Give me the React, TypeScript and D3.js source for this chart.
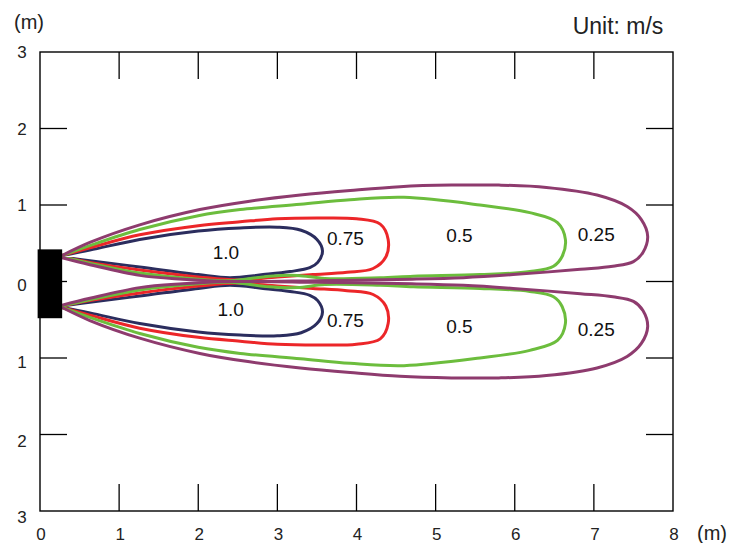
import React from "react";
import * as d3 from "d3";

type Pt = [number, number];

// Upper lobes (metres); lower lobes are their mirror images
const lobe10: Pt[] = [[0.28,0.34],[0.63,0.41],[1.26,0.55],[2.0,0.66],[2.53,0.70],[3.0,0.71],[3.3,0.67],[3.5,0.55],[3.57,0.40],[3.51,0.25],[3.41,0.18],[3.16,0.13],[2.82,0.09],[2.4,0.05],[2.0,0.09],[1.26,0.19],[0.63,0.27],[0.28,0.32]];
const lobe075: Pt[] = [[0.28,0.34],[0.63,0.44],[1.26,0.61],[2.0,0.73],[2.53,0.78],[3.0,0.82],[3.5,0.83],[4.0,0.82],[4.3,0.75],[4.40,0.55],[4.37,0.32],[4.21,0.17],[3.88,0.12],[3.45,0.09],[3.0,0.06],[2.5,0.02],[2.0,0.06],[1.26,0.15],[0.63,0.25],[0.28,0.32]];
const lobe05: Pt[] = [[0.28,0.34],[0.63,0.47],[1.26,0.68],[2.0,0.86],[2.53,0.94],[3.29,1.01],[3.92,1.07],[4.6,1.10],[5.56,1.0],[6.19,0.9],[6.54,0.77],[6.64,0.55],[6.6,0.33],[6.49,0.2],[6.19,0.13],[5.56,0.09],[4.72,0.07],[4.3,0.05],[3.6,0.04],[3.25,0.08],[2.9,0.07],[2.4,0.01],[2.0,0.03],[1.26,0.11],[0.63,0.24],[0.28,0.32]];
const lobe025: Pt[] = [[0.28,0.34],[0.63,0.51],[1.26,0.74],[2.02,0.94],[2.65,1.05],[3.29,1.13],[3.92,1.19],[4.55,1.24],[5.2,1.26],[5.8,1.26],[6.4,1.23],[7.04,1.13],[7.42,0.98],[7.6,0.81],[7.68,0.59],[7.62,0.38],[7.5,0.26],[7.24,0.20],[6.83,0.16],[5.98,0.09],[5.35,0.05],[4.7,0.03],[3.5,0.01],[2.4,0.0],[1.8,0.03],[1.26,0.08],[0.63,0.22],[0.28,0.31]];

const lobes = [lobe10, lobe075, lobe05, lobe025];
const lobeColors = ["#2b2d5e", "#ec2629", "#6cbd3d", "#8e3b6e"];
const lobeLabels = ["1.0", "0.75", "0.5", "0.25"];
const labelPosUpper: Pt[] = [[2.35,0.37],[3.86,0.55],[5.30,0.60],[7.03,0.61]];
const labelPosLower: Pt[] = [[2.41,-0.37],[3.86,-0.51],[5.30,-0.59],[7.03,-0.63]];

const xTicks = [0,1,2,3,4,5,6,7,8];
const yTicks = [3,2,1,0,-1,-2,-3];
const yLabelShift = [0,0,0,3,4,6,6];
const outlet = { x0: -0.03, x1: 0.28, y0: -0.48, y1: 0.42 };

export default function App() {
  const left = 40, right = 673, top = 52, bottom = 511;
  const x = d3.scaleLinear().domain([0, 8]).range([left, right]);
  const y = d3.scaleLinear().domain([-3, 3]).range([bottom, top]);
  const line = d3.line<Pt>().x(d => x(d[0])).y(d => y(d[1])).curve(d3.curveCatmullRom.alpha(0.5));
  const tickLen = 27;
  const font = "'Liberation Sans', Arial, sans-serif";
  return (
    <svg width={734} height={543} style={{ position: "absolute", left: 0, top: 0, background: "#fff" }} fontFamily={font}>
      <rect x={0} y={0} width={734} height={543} fill="#fff" />
      <rect x={left} y={top} width={right - left} height={bottom - top} fill="none" stroke="#000" strokeWidth={1.4} />
      {xTicks.slice(1, -1).map(t => (
        <g key={"xt" + t}>
          <line x1={x(t)} x2={x(t)} y1={top} y2={top + tickLen} stroke="#000" strokeWidth={1.3} />
          <line x1={x(t)} x2={x(t)} y1={bottom} y2={bottom - tickLen} stroke="#000" strokeWidth={1.3} />
        </g>
      ))}
      {yTicks.slice(1, -1).map(t => (
        <g key={"yt" + t}>
          <line x1={left} x2={left + tickLen} y1={y(t)} y2={y(t)} stroke="#000" strokeWidth={1.3} />
          <line x1={right} x2={right - tickLen} y1={y(t)} y2={y(t)} stroke="#000" strokeWidth={1.3} />
        </g>
      ))}
      {xTicks.map(t => (
        <text key={"xl" + t} x={x(t) + 1} y={540} fontSize={17} textAnchor="middle" fill="#222">{t}</text>
      ))}
      {yTicks.map((t, i) => (
        <text key={"yl" + t} x={22} y={y(t) + 6 + yLabelShift[i]} fontSize={17} textAnchor="middle" fill="#222">{Math.abs(t)}</text>
      ))}
      <text x={29} y={29} fontSize={20} textAnchor="middle" fill="#222">(m)</text>
      <text x={712} y={540} fontSize={20} textAnchor="middle" fill="#222">(m)</text>
      <text x={618} y={34} fontSize={23} textAnchor="middle" fill="#222">Unit: m/s</text>
      {lobes.map((lobe, i) => (
        <g key={"lobe" + i}>
          <path d={line(lobe) || ""} fill="none" stroke={lobeColors[i]} strokeWidth={3} strokeLinejoin="round" />
          <path d={line(lobe.map(p => [p[0], -p[1]] as Pt)) || ""} fill="none" stroke={lobeColors[i]} strokeWidth={3} strokeLinejoin="round" />
        </g>
      ))}
      {lobeLabels.map((l, i) => (
        <g key={"lab" + i}>
          <text x={x(labelPosUpper[i][0])} y={y(labelPosUpper[i][1]) + 6} fontSize={19} textAnchor="middle" fill="#111">{l}</text>
          <text x={x(labelPosLower[i][0])} y={y(labelPosLower[i][1]) + 6} fontSize={19} textAnchor="middle" fill="#111">{l}</text>
        </g>
      ))}
      <rect x={x(outlet.x0)} y={y(outlet.y1)} width={x(outlet.x1) - x(outlet.x0)} height={y(outlet.y0) - y(outlet.y1)} fill="#000" />
    </svg>
  );
}
